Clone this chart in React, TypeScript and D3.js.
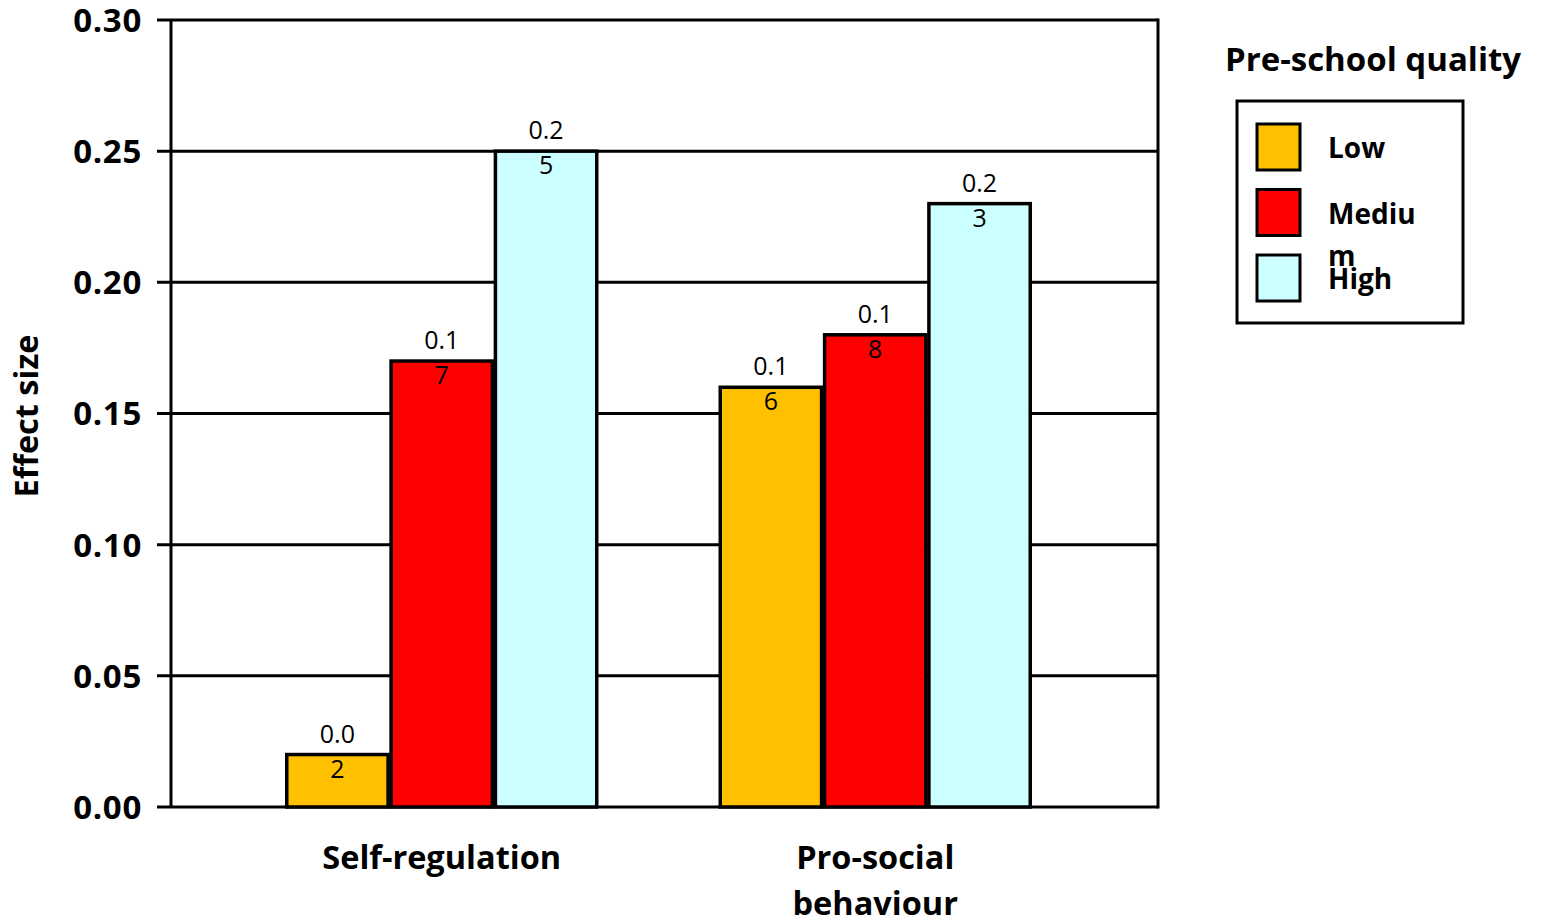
import React from "react";
import * as d3 from "d3";

const categories = ["Self-regulation", "Pro-social behaviour"];
const categoryLines = [["Self-regulation"], ["Pro-social", "behaviour"]];
const seriesNames = ["Low", "Medium", "High"];
const legendLines = [["Low"], ["Mediu", "m"], ["High"]];
const seriesColors = ["#FFC000", "#FF0000", "#CCFFFF"];
const lowValues = [0.02, 0.16];
const mediumValues = [0.17, 0.18];
const highValues = [0.25, 0.23];
const valueLabels = [
  [["0.0", "2"], ["0.1", "6"]],
  [["0.1", "7"], ["0.1", "8"]],
  [["0.2", "5"], ["0.2", "3"]],
];
const yTicks = [0, 0.05, 0.1, 0.15, 0.2, 0.25, 0.3];

const FONT = "'Open Sans', sans-serif";

export default function App() {
  const W = 1542;
  const H = 922;
  const plotLeft = 171;
  const plotRight = 1158;
  const plotTop = 20;
  const plotBottom = 807;

  const y = d3.scaleLinear().domain([0, 0.3]).range([plotBottom, plotTop]);
  const x0 = d3
    .scaleBand<string>()
    .domain(categories)
    .range([225, 1092])
    .paddingInner(0.278)
    .paddingOuter(0.139);
  const x1 = d3
    .scaleBand<string>()
    .domain(seriesNames)
    .range([0, x0.bandwidth()]);

  const series = [lowValues, mediumValues, highValues];

  return (
    <svg
      width={W}
      height={H}
      style={{ position: "absolute", left: 0, top: 0, background: "#fff" }}
      fontFamily={FONT}
    >
      {/* gridlines and ticks */}
      {yTicks.map((t) => (
        <g key={t}>
          <line
            x1={157}
            x2={plotRight}
            y1={y(t)}
            y2={y(t)}
            stroke="#000"
            strokeWidth={3}
          />
          <text
            x={142}
            y={y(t)}
            dy="0.36em"
            textAnchor="end"
            fontSize={33}
            fontWeight="bold"
            letterSpacing={0.7}
          >
            {t.toFixed(2)}
          </text>
        </g>
      ))}
      {/* plot frame */}
      <line x1={plotLeft} x2={plotLeft} y1={plotTop} y2={plotBottom} stroke="#000" strokeWidth={3} />
      <line x1={plotRight} x2={plotRight} y1={plotTop - 1.5} y2={plotBottom + 1.5} stroke="#000" strokeWidth={3} />

      {/* bars */}
      {series.map((vals, si) =>
        vals.map((v, ci) => {
          const bx = (x0(categories[ci]) ?? 0) + (x1(seriesNames[si]) ?? 0);
          const bw = x1.bandwidth();
          const top = y(v);
          const cx = bx + bw / 2;
          return (
            <g key={`${si}-${ci}`}>
              <rect
                x={bx + 1.5}
                y={top}
                width={bw - 3}
                height={plotBottom - top}
                fill={seriesColors[si]}
                stroke="#000"
                strokeWidth={3.5}
              />
              <text x={cx} y={top - 12} textAnchor="middle" fontSize={25}>
                {valueLabels[si][ci][0]}
              </text>
              <text x={cx} y={top + 23} textAnchor="middle" fontSize={25}>
                {valueLabels[si][ci][1]}
              </text>
            </g>
          );
        })
      )}

      {/* category labels */}
      {categories.map((c, ci) => (
        <text
          key={c}
          x={(x0(c) ?? 0) + x0.bandwidth() / 2}
          y={869}
          textAnchor="middle"
          fontSize={32.5}
          fontWeight="bold"
        >
          {categoryLines[ci].map((ln, li) => (
            <tspan key={li} x={(x0(c) ?? 0) + x0.bandwidth() / 2} dy={li === 0 ? 0 : 46}>
              {ln}
            </tspan>
          ))}
        </text>
      ))}

      {/* y axis title */}
      <text
        transform="translate(38,416) rotate(-90)"
        textAnchor="middle"
        fontSize={32.5}
        fontWeight="bold"
      >
        Effect size
      </text>

      {/* legend */}
      <text x={1373} y={71} textAnchor="middle" fontSize={33} fontWeight="bold">
        Pre-school quality
      </text>
      <rect x={1237} y={101} width={226} height={222} fill="none" stroke="#000" strokeWidth={3} />
      {seriesNames.map((s, si) => {
        const sy = 124 + si * 65.5;
        return (
          <g key={s}>
            <rect x={1257} y={sy} width={43} height={46} fill={seriesColors[si]} stroke="#000" strokeWidth={3} />
            {legendLines[si].map((ln, li) => (
              <text key={li} x={1328} y={sy + 34 + li * 42} fontSize={28} fontWeight="bold">
                {ln}
              </text>
            ))}
          </g>
        );
      })}
    </svg>
  );
}
